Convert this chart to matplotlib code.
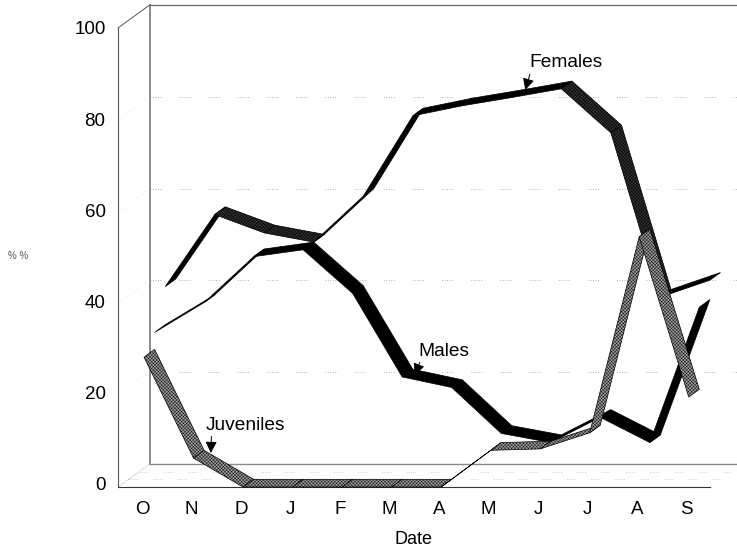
import matplotlib
matplotlib.use("Agg")
import matplotlib.pyplot as plt
from matplotlib.patches import Polygon
from matplotlib.transforms import ScaledTranslation

plt.rcParams['font.family'] = ['Liberation Sans', 'DejaVu Sans']
plt.rcParams['hatch.linewidth'] = 0.3

months = ["O", "N", "D", "J", "F", "M", "A", "M", "J", "J", "A", "S"]
juveniles = [28.3, 6.3, 0, 0, 0, 0, 0, 8, 8.3, 11.8, 54.5, 19.6]
males = [32, 38.5, 48.5, 50, 40.5, 22.3, 20, 10, 8, 13.5, 8, 37.5]
females = [40.3, 56, 52, 50, 60, 77.5, 79.7, 81.5, 83.4, 73.8, 38, 41.7]
yticks = [0, 20, 40, 60, 80, 100]

# one row of depth, in data units
DX = 10.6 / 49.5
DY = 7.7 / 4.59

W, H = 737, 550
fig = plt.figure(figsize=(W / 100, H / 100), dpi=100)
ax = fig.add_axes([118 / W, (H - 487) / H, (710 - 118) / W, (487 - 28) / H])
ax.set_xlim(-0.525, 11.43)
ax.set_ylim(0, 100)
ax.patch.set_visible(False)


def depth(x, y, row):
    return x + row * DX, y + row * DY


def wall_line(x0, y0, x1, y1, r0=3, r1=3, **kw):
    xa, ya = depth(x0, y0, r0)
    xb, yb = depth(x1, y1, r1)
    kw.setdefault("clip_on", False)
    ax.plot([xa, xb], [ya, yb], **kw)


def ribbon(values, row, face, hatch=None, flat_black=False):
    for i in range(len(values) - 1):
        x0, x1 = i, i + 1
        y0, y1 = values[i], values[i + 1]
        pts = [depth(x0, y0, row), depth(x1, y1, row),
               depth(x1, y1, row + 1), depth(x0, y0, row + 1)]
        h = hatch
        fc = face
        if flat_black and y1 >= y0:
            h = None
            fc = "black"
        p = Polygon(pts, closed=True, facecolor=fc, edgecolor="black" if h else fc,
                    hatch=h, lw=0.5, clip_on=False, zorder=3 + (2 - row))
        ax.add_patch(p)


# walls
sparse = (0, (1, 2, 1, 2, 1, 2, 1, 2, 1, 22))
left, right = ax.get_xlim()
wall_line(left, 0, left, 100, 3, 3, color="#777777", lw=1.2)
wall_line(left, 100, right + 0.05, 100, 3, 3, color="#666666", lw=0.9)
wall_line(left, 0, right, 0, 3, 3, color="#8a8a8a", lw=1.0)
wall_line(left, 100, left, 100, 0, 3, color="#555555", lw=0.7)
wall_line(left, 0, left, 0, 0, 3, color="#999999", lw=0.6, ls=(0, (1, 1.5)))
for v in yticks[1:-1]:
    wall_line(left, v, right, v, 3, 3, color="#999999", lw=0.6, ls=sparse)
    wall_line(left, v, left, v, 0, 3, color="#bbbbbb", lw=0.5, ls=(0, (1, 6)))
for r in [1, 2]:
    wall_line(left, 0, right, 0, r, r, color="#aaaaaa", lw=0.5, ls=sparse)

ribbon(females, 2, "#303030", hatch="xxxxxxxxxx", flat_black=True)
ribbon(males, 1, "black")
ribbon(juveniles, 0, "#a0a0a0", hatch="xxxxxxxxxx")

ax.spines["top"].set_visible(False)
ax.spines["right"].set_visible(False)
ax.spines["left"].set_color("#555555")
ax.spines["left"].set_linewidth(0.8)
ax.spines["bottom"].set_color("#333333")
ax.spines["bottom"].set_linewidth(0.8)

ax.set_xticks(range(len(months)))
ax.set_xticklabels(months, fontsize=13.5)
ax.set_yticks(yticks)
ax.tick_params(axis="y", labelsize=13.5, length=0, pad=9, colors="black")
ax.tick_params(axis="x", length=0, pad=10)
ax.set_xlabel("Date", fontsize=13)
ax.xaxis.set_label_coords(0.5, -0.096)

# labels sit a little off the true tick positions in the original
for lab in ax.get_xticklabels():
    lab.set_transform(lab.get_transform() + ScaledTranslation(-2 / 100, 0, fig.dpi_scale_trans))
for lab, v in zip(ax.get_yticklabels(), yticks):
    lab.set_transform(lab.get_transform()
                      + ScaledTranslation(0, (100 - v) * 0.03 / 100, fig.dpi_scale_trans))

arrow = dict(arrowstyle="-|>,head_length=0.5,head_width=0.25", color="black", lw=0.7,
             shrinkA=0, shrinkB=0)
ax.annotate("Females", xy=(7.7, 86.5), xytext=(7.78, 92.4), fontsize=13.8, va="center",
            ha="left", arrowprops=dict(arrow, relpos=(0.02, 0)), zorder=8)
ax.annotate("Males", xy=(5.47, 24.4), xytext=(5.54, 29.6), fontsize=13.8, va="center",
            ha="left", arrowprops=dict(arrow, relpos=(0.05, 0)), zorder=8)
ax.annotate("Juveniles", xy=(1.35, 7.4), xytext=(1.25, 13.5), fontsize=13.8, va="center",
            ha="left", arrowprops=dict(arrow, relpos=(0.07, 0)), zorder=8)

fig.text(18 / W, 1 - 256 / H, "% %", fontsize=7, color="#555555", ha="center", va="center")

fig.savefig("out.png", dpi=100)
